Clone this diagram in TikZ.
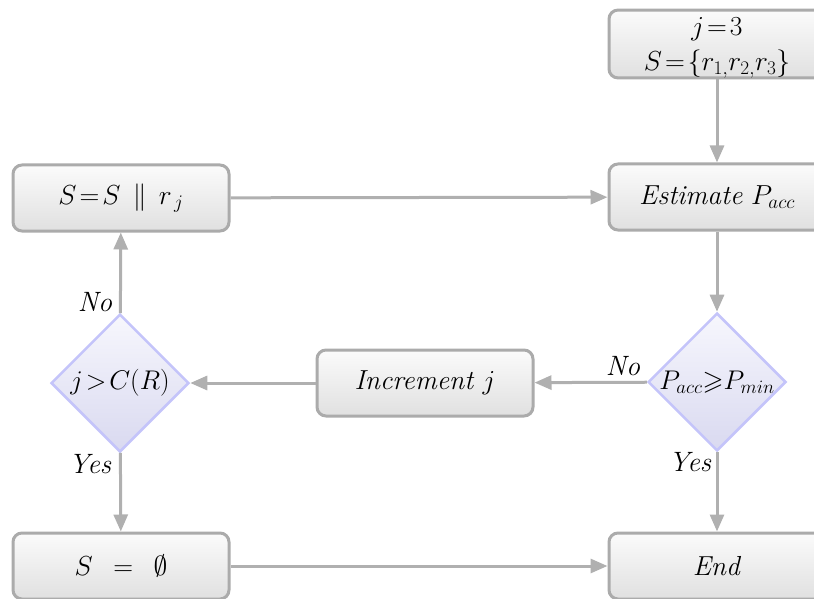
\RequirePackage{fix-cm}
\documentclass[tikz,border=0pt]{standalone}
\usepackage{amssymb}
\usetikzlibrary{shapes.geometric,arrows.meta}
\definecolor{boxline}{HTML}{ABABAB}
\definecolor{boxtop}{HTML}{FBFBFB}
\definecolor{boxbot}{HTML}{E0E0E0}
\definecolor{decline}{HTML}{C4C4FA}
\definecolor{dectop}{HTML}{F7F7FD}
\definecolor{decbot}{HTML}{D9D9F0}
\definecolor{flowgray}{HTML}{B0B0B0}
\begin{document}
\begin{tikzpicture}[x=1pt,y=-1pt,
  box/.style={draw=boxline, line width=3pt, rounded corners=9pt,
    top color=boxtop, bottom color=boxbot,
    minimum width=216pt, minimum height=66pt, align=center,
    font=\fontsize{27.5}{35}\selectfont},
  dec/.style={diamond, aspect=1, draw=decline, line width=2.5pt,
    top color=dectop, bottom color=decbot, inner sep=0pt,
    minimum width=138pt, minimum height=138pt,
    font=\fontsize{27}{27}\selectfont},
  flow/.style={draw=flowgray, line width=3pt,
    -{Triangle[length=17pt,width=14pt]}},
  lbl/.style={font=\fontsize{28}{28}\selectfont\itshape}
]
\useasboundingbox (0,0) rectangle (814,599);

% boxes
\node[box, minimum height=67pt, inner ysep=0pt] (init) at (717,44)
  {\rule{0pt}{25pt}$j\!=\!3$\\ $S\!=\!\{r_{1,}r_{2,}r_3\}$\rule[-7pt]{0pt}{7pt}};
\node[box] (est)  at (717,197) {\textit{Estimate} $P_{acc}$};
\node[box] (app)  at (121,198) {$S\!=\!S\;\,\|\;\,r_{\,j}$};
\node[box] (inc)  at (425,383) {\textit{Increment} $j$};
\node[box] (empty) at (121,566) {$S\ \,=\ \,\emptyset$};
\node[box] (fin)  at (717,566) {\textit{End}};

% decisions
\node[dec] (acc) at (717,382) {$P_{acc}{\geqslant}P_{min}$};
\node[dec] (cap) at (120,383) {$j\!>\!C(R)$};

% connectors
\draw[flow] (init) -- (est);
\draw[flow] (est) -- (acc);
\draw[flow] (acc) -- (inc);
\draw[flow] (inc) -- (cap);
\draw[flow] (cap) -- (app);
\draw[flow] (app) -- (est);
\draw[flow] (cap) -- (empty);
\draw[flow] (acc) -- (fin);
\draw[flow] (empty) -- (fin);

% branch labels
\node[lbl] (capno)  at (95,302) {No};
\node[lbl] (capyes) at (90,464) {Yes};
\node[lbl] (accno)  at (623,366) {No};
\node[lbl] (accyes) at (690,462) {Yes};
\end{tikzpicture}
\end{document}
